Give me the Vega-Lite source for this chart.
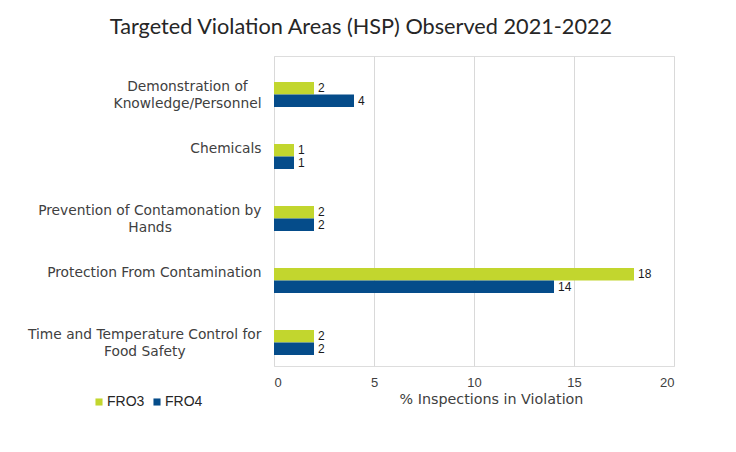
{
  "$schema": "https://vega.github.io/schema/vega-lite/v6.json",
  "width": 400,
  "height": 310,
  "autosize": "none",
  "padding": {"left": 274, "top": 56, "right": 62, "bottom": 86},
  "background": "white",
  "title": {
    "text": "Targeted Violation Areas (HSP) Observed 2021-2022",
    "font": "Lato",
    "fontSize": 21.7,
    "fontWeight": "normal",
    "color": "#262626",
    "anchor": "middle",
    "dx": -113,
    "offset": 17
  },
  "data": {
    "values": [
      {"category": "Demonstration of|Knowledge/Personnel", "series": "FRO3", "value": 2},
      {"category": "Demonstration of|Knowledge/Personnel", "series": "FRO4", "value": 4},
      {"category": "Chemicals", "series": "FRO3", "value": 1},
      {"category": "Chemicals", "series": "FRO4", "value": 1},
      {"category": "Prevention of Contamonation by|Hands", "series": "FRO3", "value": 2},
      {"category": "Prevention of Contamonation by|Hands", "series": "FRO4", "value": 2},
      {"category": "Protection From Contamination", "series": "FRO3", "value": 18},
      {"category": "Protection From Contamination", "series": "FRO4", "value": 14},
      {"category": "Time and Temperature Control for|Food Safety", "series": "FRO3", "value": 2},
      {"category": "Time and Temperature Control for|Food Safety", "series": "FRO4", "value": 2}
    ]
  },
  "encoding": {
    "y": {
      "field": "category",
      "type": "nominal",
      "sort": null,
      "scale": {"paddingInner": 0, "paddingOuter": 0},
      "axis": {
        "title": null,
        "labelExpr": "datum.label == 'Demonstration of|Knowledge/Personnel' ? ['Demonstration of\u2002\u2002\u200b', 'Knowledge/Personnel'] : datum.label == 'Prevention of Contamonation by|Hands' ? ['Prevention of Contamonation by', 'Hands\u2002\u2002\u2002\u2002\u2002\u2002\u2002\u2002\u2002\u2002\u2002\u2002\u2002\u200b'] : datum.label == 'Time and Temperature Control for|Food Safety' ? ['Time and Temperature Control for', 'Food Safety\u2002\u2002\u2002\u2002\u2002\u2002\u2002\u2002\u2002\u2002\u2002\u200b'] : datum.label",
        "labelFont": "DejaVu Sans",
        "labelFontSize": 13.8,
        "labelColor": "#404040",
        "labelPadding": 13,
        "labelLimit": 270,
        "labelLineHeight": 17,
        "domain": false,
        "ticks": false,
        "grid": false
      }
    },
    "yOffset": {
      "field": "series",
      "type": "nominal",
      "sort": ["FRO3", "FRO4"],
      "scale": {"range": [26, 51], "paddingInner": 0, "paddingOuter": 0}
    },
    "x": {
      "field": "value",
      "type": "quantitative",
      "scale": {"domain": [0, 20]},
      "axis": {
        "values": [0, 5, 10, 15, 20],
        "title": "% Inspections in Violation",
        "titleFont": "DejaVu Sans",
        "titleFontSize": 14.3,
        "titleFontWeight": "normal",
        "titleColor": "#404040",
        "titleX": 217,
        "titlePadding": 3,
        "labelFont": "Liberation Sans",
        "labelFontSize": 13,
        "labelColor": "#404040",
        "labelPadding": 10,
        "grid": true,
        "gridColor": "#d9d9d9",
        "domain": false,
        "ticks": false
      }
    }
  },
  "layer": [
    {
      "mark": {"type": "bar"},
      "encoding": {
        "color": {
          "field": "series",
          "type": "nominal",
          "scale": {"domain": ["FRO3", "FRO4"], "range": ["#c2d62e", "#054c8a"]},
          "legend": {
            "title": null,
            "orient": "none",
            "legendX": -182,
            "legendY": 339,
            "direction": "horizontal",
            "symbolType": "square",
            "symbolSize": 50,
            "symbolStrokeWidth": 0,
            "labelFont": "Liberation Sans",
            "labelFontSize": 14,
            "labelColor": "#262626",
            "columnPadding": 5,
            "labelOffset": 1
          }
        }
      }
    },
    {
      "mark": {"type": "text", "align": "left", "baseline": "middle", "dx": 4, "font": "Liberation Sans", "fontSize": 12, "color": "#1a1a1a"},
      "encoding": {"text": {"field": "value", "type": "quantitative"}}
    }
  ]
}
